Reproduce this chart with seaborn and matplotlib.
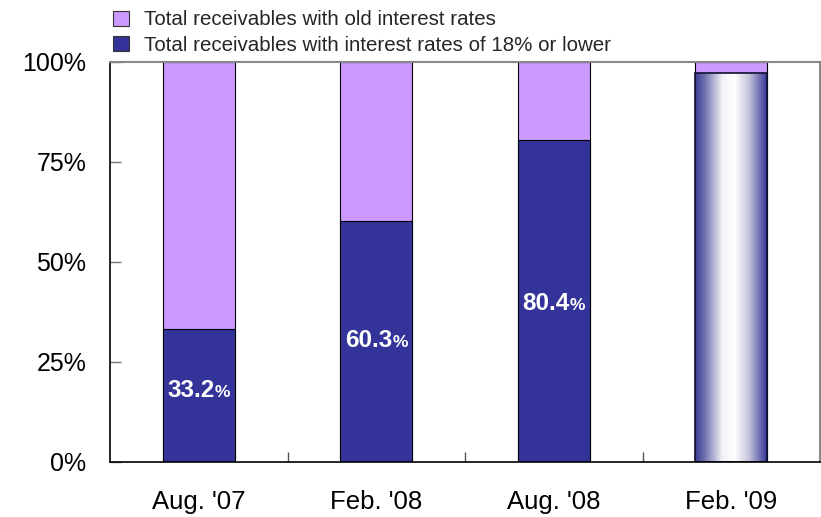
import numpy as np
import pandas as pd
import matplotlib
matplotlib.use("Agg")
import matplotlib.pyplot as plt
from matplotlib.colors import LinearSegmentedColormap
from matplotlib.ticker import FuncFormatter, FixedLocator
from matplotlib.patches import Patch
import seaborn as sns

# Share of receivables by interest-rate bracket
periods = ["Aug. '07", "Feb. '08", "Aug. '08", "Feb. '09"]
low_rate_share = [33.2, 60.3, 80.4, 97.2]
old_rate_share = [100 - v for v in low_rate_share]
labeled = [True, True, True, False]

series_names = ["Total receivables with old interest rates",
                "Total receivables with interest rates of 18% or lower"]
light_purple = "#CC99FF"
dark_blue = "#333399"

df = pd.DataFrame({
    "period": periods,
    "low": low_rate_share,
    "old": old_rate_share,
})
df["total"] = df["low"] + df["old"]

sns.set_theme(style="white")
plt.rcParams["font.family"] = ["Liberation Sans", "DejaVu Sans"]

fig = plt.figure(figsize=(8.21, 5.17), dpi=100)
ax = fig.add_axes([0.134, 0.1064, 0.8648, 0.7737])

bar_w = 0.405
sns.barplot(data=df, x="period", y="total", order=periods, color=light_purple,
            width=bar_w, edgecolor="black", linewidth=0.8, saturation=1, ax=ax)
sns.barplot(data=df, x="period", y="low", order=periods, color=dark_blue,
            width=bar_w, edgecolor="black", linewidth=0.8, saturation=1, ax=ax)

# Latest period: cylinder-like horizontal shading on the low-rate bar
low_bars = ax.containers[1]
shade = LinearSegmentedColormap.from_list(
    "cyl", [(0.0, "#3a3a96"), (0.12, "#6a6aac"), (0.38, "#f2f2f7"),
            (0.55, "#ffffff"), (0.75, "#c4c4da"), (1.0, "#38389a")])
for patch, flag in zip(low_bars.patches, labeled):
    if flag:
        continue
    x0, y0 = patch.get_x(), patch.get_y()
    w, h = patch.get_width(), patch.get_height()
    grad = np.linspace(0, 1, 256)[None, :]
    im = ax.imshow(grad, cmap=shade, aspect="auto",
                   extent=[x0, x0 + w, y0, y0 + h], zorder=patch.get_zorder() + 0.1)
    im.set_clip_path(patch)
    outline = plt.Rectangle((x0, y0), w, h, fill=False, edgecolor="#111133",
                            linewidth=1.2, zorder=patch.get_zorder() + 0.2)
    ax.add_patch(outline)

# Value labels: bold number with a smaller percent sign
for i, (v, flag) in enumerate(zip(low_rate_share, labeled)):
    if not flag:
        continue
    y = 0.46 * v + 3.3
    ax.text(i + 0.09, y, f"{v:.1f}", ha="right", va="center_baseline", color="white",
            fontsize=17.5, fontweight="bold", zorder=5)
    ax.text(i + 0.09, y - 0.9, "%", ha="left", va="center_baseline", color="white",
            fontsize=12.5, fontweight="bold", zorder=5)

ax.set_xlim(-0.5, len(periods) - 0.5)
ax.set_ylim(0, 100)
ax.set_xlabel("")
ax.set_ylabel("")
ax.set_yticks([0, 25, 50, 75, 100])
ax.yaxis.set_major_formatter(FuncFormatter(lambda v, _: f"{v:.0f}%"))
ax.tick_params(axis="y", direction="in", length=8, width=1, color="#777777",
               labelsize=18, labelcolor="black", pad=17, left=True)
ax.tick_params(axis="x", length=0, labelsize=18.5, labelcolor="black", pad=20)
ax.xaxis.set_minor_locator(FixedLocator([0.5, 1.5, 2.5]))
ax.tick_params(axis="x", which="minor", direction="in", length=7, width=1,
               color="#555555", bottom=True)

for side in ["left", "bottom"]:
    ax.spines[side].set_color("black")
    ax.spines[side].set_linewidth(1.2)
for side in ["top", "right"]:
    ax.spines[side].set_color("#888888")
    ax.spines[side].set_linewidth(1.5)

handles = [Patch(facecolor=light_purple, edgecolor="#333333", linewidth=0.8),
           Patch(facecolor=dark_blue, edgecolor="#333333", linewidth=0.8)]
fig.legend(handles, series_names, loc="upper left", bbox_to_anchor=(0.128, 0.996),
           frameon=False, fontsize=14.8, handlelength=0.75, handleheight=0.75,
           handletextpad=0.72, labelspacing=0.32, borderaxespad=0)

fig.savefig("out.png", dpi=100)
